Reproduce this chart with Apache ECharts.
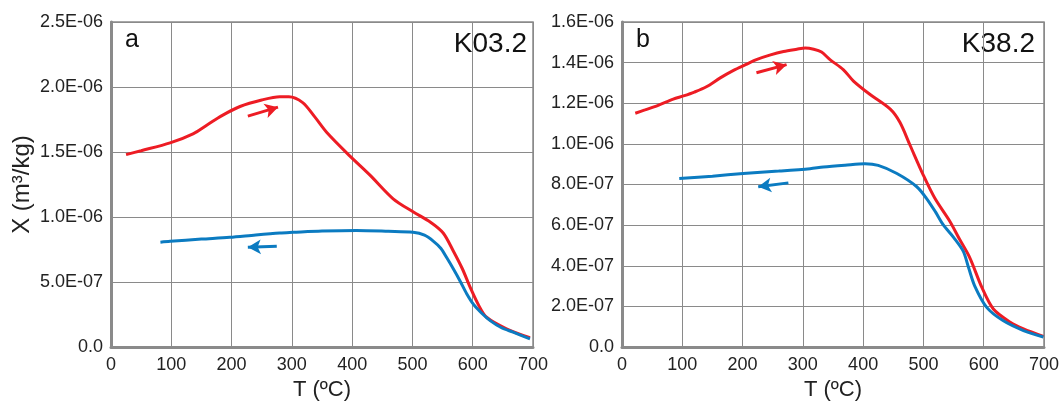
<!DOCTYPE html>
<html><head><meta charset="utf-8">
<script src="https://cdn.jsdelivr.net/npm/echarts@6/dist/echarts.min.js"></script>
<style>html,body{margin:0;padding:0;background:#fff}#c{width:1062px;height:406px}</style>
</head><body><div id="c"></div>
<script>
// Panel a (K03.2): T in °C, X in m3/kg
const heatA = [[25,1.48e-6],[50,1.51e-6],[98,1.57e-6],[136,1.64e-6],[160,1.71e-6],[184,1.78e-6],[214,1.85e-6],[250,1.90e-6],[280,1.925e-6],[295,1.925e-6],[318,1.88e-6],[338,1.77e-6],[358,1.65e-6],[396,1.47e-6],[430,1.32e-6],[468,1.14e-6],[501,1.04e-6],[530,0.96e-6],[551,0.877e-6],[568,0.737e-6],[583,0.60e-6],[596,0.457e-6],[610,0.32e-6],[623,0.229e-6],[656,0.14e-6],[695,0.071e-6]];
const coolA = [[82,0.806e-6],[98,0.813e-6],[150,0.83e-6],[197,0.844e-6],[240,0.862e-6],[280,0.877e-6],[302,0.882e-6],[350,0.892e-6],[407,0.897e-6],[460,0.890e-6],[501,0.882e-6],[520,0.86e-6],[535,0.813e-6],[547,0.76e-6],[557,0.686e-6],[568,0.60e-6],[579,0.508e-6],[590,0.41e-6],[601,0.33e-6],[615,0.26e-6],[629,0.203e-6],[647,0.15e-6],[667,0.114e-6],[695,0.063e-6]];
// Panel b (K38.2)
const heatB = [[22,1.151e-6],[38,1.167e-6],[60,1.19e-6],[85,1.22e-6],[102,1.236e-6],[120,1.255e-6],[140,1.281e-6],[163,1.325e-6],[185,1.362e-6],[205,1.39e-6],[223,1.415e-6],[245,1.437e-6],[268,1.455e-6],[290,1.466e-6],[304,1.472e-6],[318,1.466e-6],[331,1.452e-6],[345,1.415e-6],[367,1.366e-6],[384,1.309e-6],[411,1.244e-6],[445,1.171e-6],[461,1.106e-6],[478,0.992e-6],[500,0.845e-6],[519,0.732e-6],[544,0.618e-6],[560,0.53e-6],[577,0.439e-6],[597,0.293e-6],[616,0.187e-6],[644,0.122e-6],[666,0.089e-6],[699,0.052e-6]];
const coolB = [[95,0.829e-6],[150,0.841e-6],[201,0.854e-6],[260,0.866e-6],[312,0.878e-6],[334,0.886e-6],[370,0.895e-6],[403,0.902e-6],[425,0.894e-6],[456,0.854e-6],[489,0.789e-6],[505,0.732e-6],[520,0.665e-6],[533,0.601e-6],[550,0.54e-6],[566,0.472e-6],[575,0.39e-6],[585,0.301e-6],[605,0.195e-6],[632,0.13e-6],[666,0.081e-6],[699,0.049e-6]];
// Direction arrows [tail, tip]
const arrowHeatA = [[227,1.776e-6],[277,1.845e-6]];
const arrowCoolA = [[275,0.775e-6],[227,0.767e-6]];
const arrowHeatB = [[223,1.35e-6],[273,1.39e-6]];
const arrowCoolB = [[276,0.808e-6],[226,0.789e-6]];
const xTicks = [0,100,200,300,400,500,600,700];
const panelLabels = ['a','b'];
const sampleNames = ['K03.2','K38.2'];
const xName = 'T (ºC)';
const yName = 'X (m³/kg)';

const RED = '#ed1c24', BLUE = '#0b7bc1', GRID = '#8a8a8a';
const FONT = 'Liberation Sans, Arial, sans-serif';

function fmtY(v){
  if (v === 0) return '0.0';
  const s = v.toExponential(1).split('e');
  const e = parseInt(s[1],10);
  const sign = e < 0 ? '-' : '+';
  const ab = Math.abs(e);
  return s[0] + 'E' + sign + (ab < 10 ? '0' + ab : ab);
}

const grids = [
  {left:111, top:22, width:422, height:328},
  {left:622, top:22, width:422, height:328}
];
function xAxis(i){
  return {type:'value', gridIndex:i, min:xTicks[0], max:xTicks[xTicks.length-1], interval:100,
    name:xName, nameLocation:'middle', nameGap:32,
    nameTextStyle:{fontFamily:FONT, fontSize:22, color:'#222'},
    axisLine:{show:true, lineStyle:{color:GRID, width:3}},
    axisTick:{show:false},
    axisLabel:{fontFamily:FONT, fontSize:18, color:'#222', margin:9},
    splitLine:{show:true, lineStyle:{color:GRID, width:1}}};
}
function yAxis(i, max, interval, name){
  return {type:'value', gridIndex:i, min:0, max:max, interval:interval,
    name:name, nameLocation:'middle', nameGap:77,
    nameTextStyle:{fontFamily:FONT, fontSize:24, color:'#222'},
    axisLine:{show:true, lineStyle:{color:GRID, width:3}},
    axisTick:{show:false},
    axisLabel:{fontFamily:FONT, fontSize:18, color:'#222', margin:8, formatter:fmtY},
    splitLine:{show:true, lineStyle:{color:GRID, width:1}}};
}
function curve(i, data, color){
  return {type:'line', xAxisIndex:i, yAxisIndex:i, data:data, showSymbol:false, smooth:0.3,
    lineStyle:{color:color, width:3}, z:3};
}
function arrow(i, pts, color){
  return {type:'line', xAxisIndex:i, yAxisIndex:i, data:[], silent:true,
    markLine:{silent:true, symbol:['none','arrow'], symbolSize:[11,13],
      label:{show:false}, lineStyle:{color:color, width:3, type:'solid'},
      data:[[{coord:pts[0]},{coord:pts[1]}]]}};
}
const chart = echarts.init(document.getElementById('c'), null, {renderer:'canvas'});
chart.setOption({
  animation:false,
  backgroundColor:'#fff',
  grid: grids.map(g => Object.assign({show:true, borderColor:GRID, borderWidth:1.5, backgroundColor:'transparent'}, g)),
  xAxis:[xAxis(0), xAxis(1)],
  yAxis:[yAxis(0, 2.5e-6, 5e-7, yName), yAxis(1, 1.6e-6, 2e-7, '')],
  series:[
    curve(0, heatA, RED), curve(0, coolA, BLUE),
    curve(1, heatB, RED), curve(1, coolB, BLUE),
    arrow(0, arrowHeatA, RED), arrow(0, arrowCoolA, BLUE),
    arrow(1, arrowHeatB, RED), arrow(1, arrowCoolB, BLUE)
  ],
  graphic:[
    {type:'text', left:125, top:28, style:{text:panelLabels[0], font:'25px '+FONT, fill:'#111'}},
    {type:'text', left:636, top:28, style:{text:panelLabels[1], font:'25px '+FONT, fill:'#111'}},
    {type:'text', right:1062-527, top:30, style:{text:sampleNames[0], font:'28px '+FONT, fill:'#111'}},
    {type:'text', right:1062-1035, top:30, style:{text:sampleNames[1], font:'28px '+FONT, fill:'#111'}}
  ]
});
</script></body></html>
